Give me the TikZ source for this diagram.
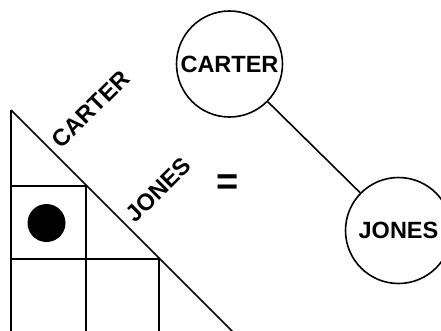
\documentclass[tikz,border=0pt]{standalone}
\usepackage{fontspec}
\setmainfont{Liberation Sans}
\begin{document}
\begin{tikzpicture}[x=1pt,y=-1pt,
  ln/.style={line width=1.6pt},
  lbl/.style={font=\fontsize{23.5}{26}\selectfont\bfseries, inner sep=0pt},
  person/.style={circle, draw, line width=1.6pt, minimum size=106pt, inner sep=0pt,
    font=\fontsize{23.5}{26}\selectfont\bfseries}]
\useasboundingbox (0,0) rectangle (441,330);
\clip (0,0) rectangle (441,330);
% triangle grid
\draw[ln] (11,110) -- (11,340);
\draw[ln] (11,110) -- (241,340);
\draw[ln] (11,186) -- (87,186);
\draw[ln] (11,259) -- (160,259);
\draw[ln] (86,186) -- (86,340);
\draw[ln] (159,259) -- (159,340);
\fill (46.5,223) circle (19pt);
% rotated labels
\node[lbl, rotate=45, anchor=west] (lc) at (56,144) {CARTER};
\node[lbl, rotate=45, anchor=west] (lj) at (130,218) {JONES};
\node[font=\fontsize{38}{40}\selectfont\bfseries, inner sep=0pt] (eq) at (227.5,184.5) {=};
% graph
\node[person] (carter) at (229.5,64) {CARTER};
\node[person] (jones) at (398.5,230.5) {JONES};
\draw[ln] (carter) -- (jones);
\end{tikzpicture}
\end{document}
